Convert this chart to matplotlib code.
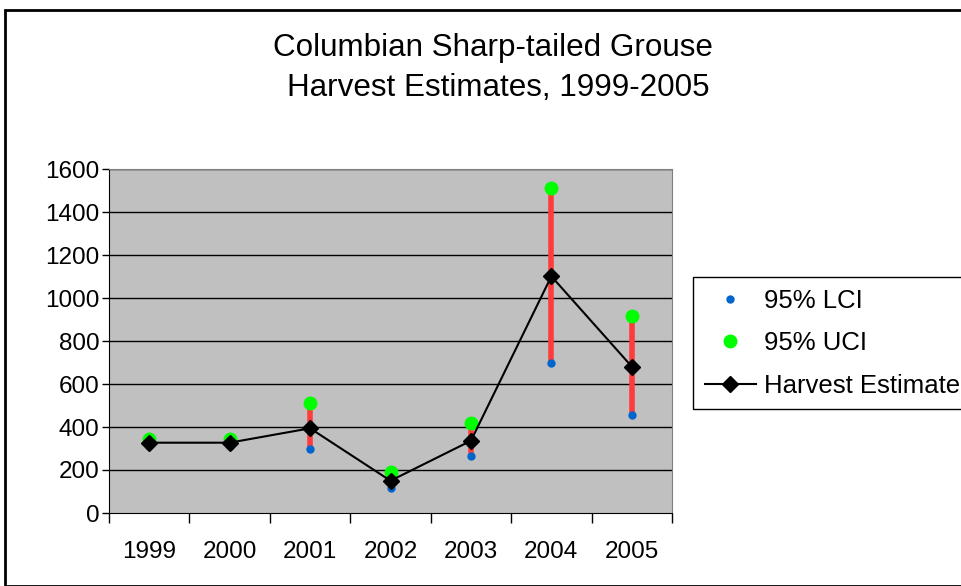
import numpy as np
import matplotlib.pyplot as plt
from matplotlib.patches import Rectangle

years = ['1999', '2000', '2001', '2002', '2003', '2004', '2005']
estimate = [327, 327, 394, 150, 336, 1101, 681]
lci = [310, 310, 296, 118, 267, 696, 454]
uci = [346, 346, 510, 192, 417, 1513, 918]

plt.rcParams['font.family'] = ['Liberation Sans', 'DejaVu Sans']

fig = plt.figure(figsize=(9.61, 5.86), dpi=100)
ax = fig.add_axes([109 / 961, 1 - 513 / 586, (672 - 109) / 961, (513 - 169) / 586])

x = np.arange(1, len(years) + 1)

ax.set_facecolor('#C0C0C0')
for y in range(200, 1601, 200):
    ax.axhline(y, color='black', lw=1, zorder=1)

# high-low lines
ax.vlines(x, lci, uci, color='#FF3B3B', lw=4, zorder=2)
ax.plot(x, lci, 'o', color='#0066CC', ms=5, ls='none', label='95% LCI', zorder=3)
ax.plot(x, uci, 'o', color='#00FF00', ms=9, ls='none', label='95% UCI', zorder=3)
ax.plot(x, estimate, '-D', color='black', ms=8, lw=1.5, label='Harvest Estimate', zorder=4)

ax.set_xlim(0.5, len(years) + 0.5)
ax.set_ylim(0, 1600)
ax.set_yticks(range(0, 1601, 200))
ax.set_xticks(np.arange(0.5, len(years) + 1, 1))
ax.set_xticklabels([])
ax.set_xticks(x, minor=True)
ax.set_xticklabels(years, minor=True)
ax.tick_params(axis='x', which='major', direction='out', length=7, width=1)
ax.tick_params(axis='x', which='minor', length=0, pad=20, labelsize=17.5)
ax.tick_params(axis='y', direction='out', length=5, width=1, labelsize=17.5, pad=2)
for s in ['top', 'right']:
    ax.spines[s].set_color('#808080')
for s in ['left', 'bottom']:
    ax.spines[s].set_color('black')

fig.text(493 / 961, 1 - 48 / 586, 'Columbian Sharp-tailed Grouse', ha='center', va='center', fontsize=22.6)
fig.text(498 / 961, 1 - 88 / 586, 'Harvest Estimates, 1999-2005', ha='center', va='center', fontsize=22.6)

leg = fig.legend(loc='upper left', bbox_to_anchor=(693 / 961, 1 - 277 / 586), fontsize=18.5,
                 frameon=True, fancybox=False, edgecolor='black', framealpha=1,
                 handlelength=2, labelspacing=0.72, borderpad=0.45, handletextpad=0.3,
                 borderaxespad=0)
leg.get_frame().set_linewidth(1)

fig.patches.append(Rectangle((5 / 961, 0), 1, 1 - 10 / 586, transform=fig.transFigure,
                             fill=False, edgecolor='black', lw=2))

fig.savefig('out.png', dpi=100)
